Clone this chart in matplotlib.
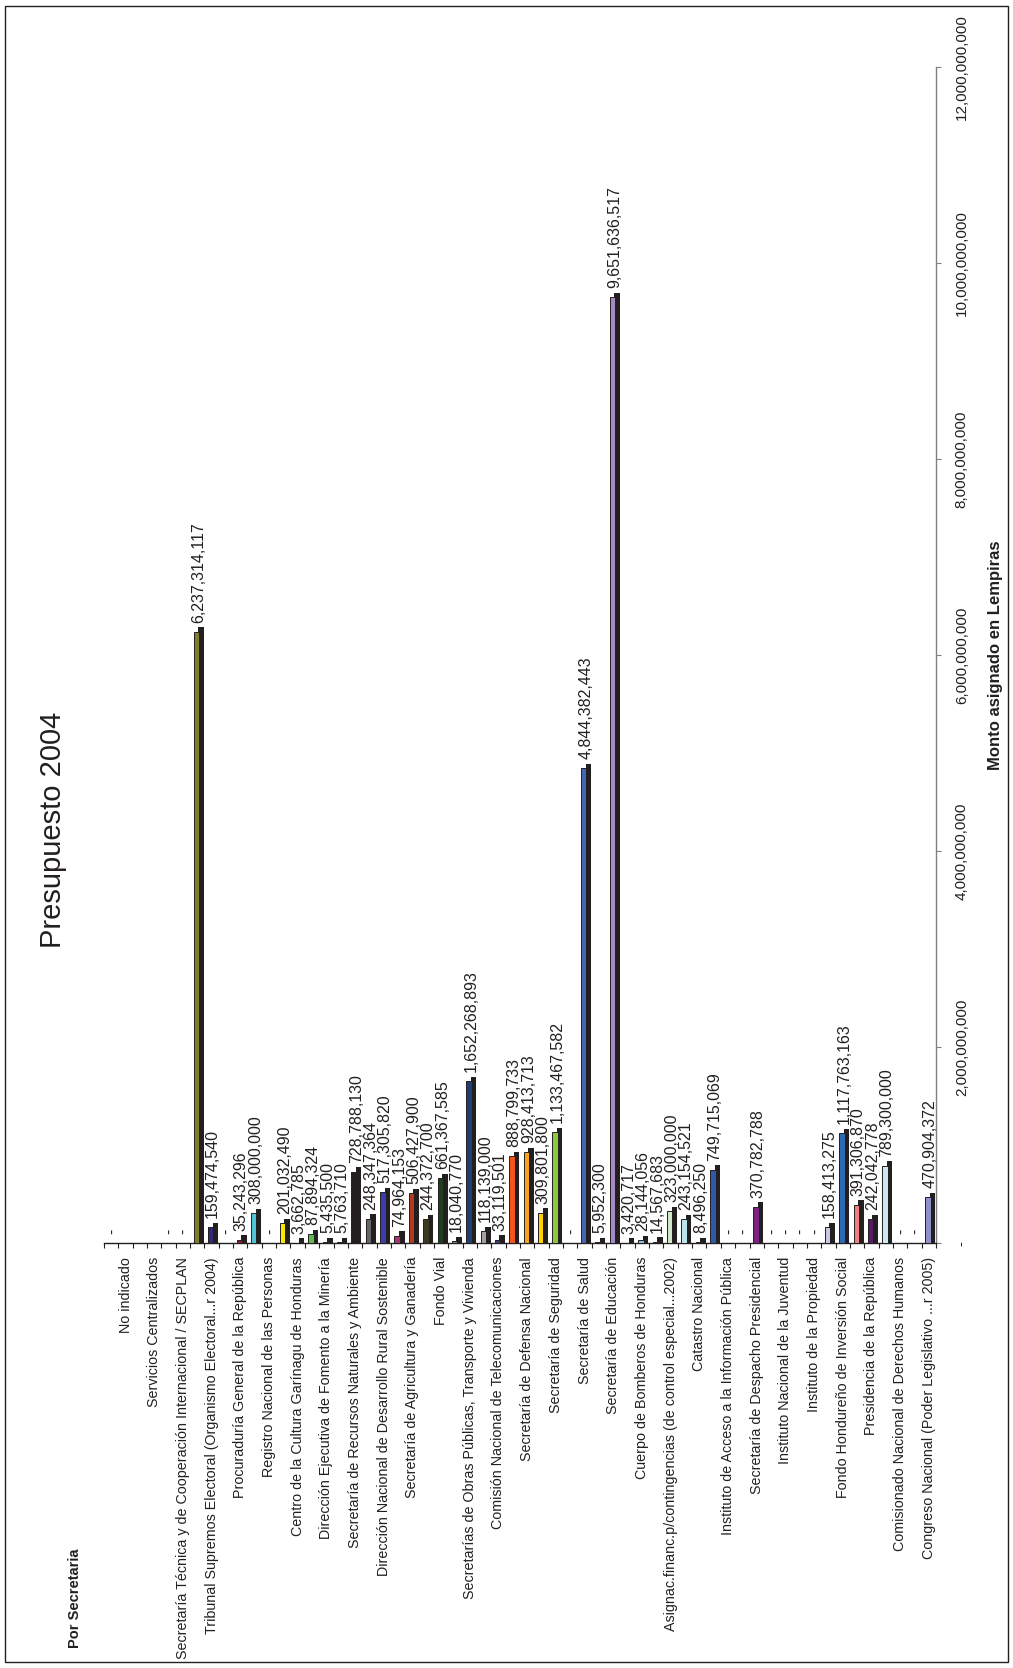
import numpy as np
import matplotlib
matplotlib.use("Agg")
import matplotlib.pyplot as plt
from matplotlib.patches import Rectangle
from matplotlib.ticker import FuncFormatter
from matplotlib.transforms import ScaledTranslation

plt.rcParams["font.family"] = ["Liberation Sans", "DejaVu Sans"]

# categorias (solo una de cada dos lleva nombre visible en el grafico)
categorias = [
    "", "No indicado",
    "", "Servicios Centralizados",
    "", "Secretaría Técnica y de Cooperación Internacional / SECPLAN",
    "", "Tribunal Supremos Electoral (Organismo Electoral...r 2004)",
    "", "Procuraduría General de la República",
    "", "Registro Nacional de las Personas",
    "", "Centro de la Cultura Garínagu de Honduras",
    "", "Dirección Ejecutiva de Fomento a la Minería",
    "", "Secretaría de Recursos Naturales y Ambiente",
    "", "Dirección Nacional de Desarrollo Rural Sostenible",
    "", "Secretaría de Agricultura y Ganadería",
    "", "Fondo Vial",
    "", "Secretarías de Obras Públicas, Transporte y Vivienda",
    "", "Comisión Nacional de Telecomunicaciones",
    "", "Secretaría de Defensa Nacional",
    "", "Secretaría de Seguridad",
    "", "Secretaría de Salud",
    "", "Secretaría de Educación",
    "", "Cuerpo de Bomberos de Honduras",
    "", "Asignac.financ.p/contingencias (de control especial...2002)",
    "", "Catastro Nacional",
    "", "Instituto de Acceso a la Información Pública",
    "", "Secretaría de Despacho Presidencial",
    "", "Instituto Nacional de la Juventud",
    "", "Instituto de la Propiedad",
    "", "Fondo Hondureño de Inversión Social",
    "", "Presidencia de la República",
    "", "Comisionado Nacional de Derechos Humanos",
    "", "Congreso Nacional (Poder Legislativo ...r 2005)",
]

# monto asignado en lempiras (nan = celda vacia)
montos = [
    0, np.nan, np.nan, np.nan, 0, 0,
    6237314117, 159474540, 0, 35243296, 308000000, 0,
    201032490, 3662785, 87894324, 5435500, 5763710, 728788130,
    248347364, 517305820, 74964153, 506427900, 244372700, 661367585,
    18040770, 1652268893, 118139000, 33119501, 888799733, 928413713,
    309801800, 1133467582, 0, 4844382443, 5952300, 9651636517,
    3420717, 28144056, 14567683, 323000000, 243154521, 8496250,
    749715069, 0, 0, 370782788, 0, 0,
    0, 0, 158413275, 1117763163, 391306870, 242042778,
    789300000, 0, 0, 470904372,
]

colores = [
    "#ffffff", "#ffffff", "#ffffff", "#ffffff", "#ffffff", "#ffffff",
    "#7f7f2a", "#2e2a78", "#ffffff", "#8c1c24", "#52c3d6", "#ffffff",
    "#f7ea00", "#c0c0c0", "#5dbb4a", "#996633", "#cc9966", "#231f20",
    "#666666", "#3b3ea8", "#a8336e", "#b23a1e", "#3a3a1e", "#1f3d1f",
    "#808080", "#1e3f72", "#a0a0a0", "#3c3c78", "#f2561d", "#f7a21b",
    "#ffd200", "#8dc63f", "#ffffff", "#4466b0", "#999999", "#a58ac4",
    "#cccccc", "#8fb8e0", "#b0b0b0", "#d1e8c8", "#bde4ee", "#cccccc",
    "#2e58a8", "#ffffff", "#ffffff", "#7b2383", "#ffffff", "#ffffff",
    "#ffffff", "#ffffff", "#c9c6e6", "#2d6ab3", "#f07f7f", "#5b1a66",
    "#cfe9f0", "#ffffff", "#ffffff", "#8f8fd0",
]

valor_max = 12e9
paso = 2e9

W, H = 1013, 1668
fig = plt.figure(figsize=(W / 100, H / 100), dpi=100)
ax_left, ax_right, ax_top, ax_bottom = 104, 936, 67, 1243
ax = fig.add_axes([ax_left / W, 1 - ax_bottom / H,
                   (ax_right - ax_left) / W, (ax_bottom - ax_top) / H])

x = np.arange(len(montos))
vals = np.array(montos, dtype=float)
oscuro = "#231f20"

# efecto 3D: copia oscura desplazada a la derecha y hacia arriba
dx_px, dy_px = 4.6, 4.3
desplazar = ScaledTranslation(dx_px / 100, dy_px / 100, fig.dpi_scale_trans)
pad_dato = valor_max * dy_px / (ax_bottom - ax_top)
sombra = np.where(vals > 0, vals + pad_dato, np.nan)
ax.bar(x - 0.06, sombra, width=0.38, bottom=-pad_dato, color=oscuro,
       linewidth=0, transform=ax.transData + desplazar, zorder=2)
ax.bar(x - 0.06, np.where(vals > 0, vals, np.nan), width=0.38, color=colores,
       edgecolor=oscuro, linewidth=0.7, zorder=3)

for xi, v in zip(x, vals):
    if np.isnan(v):
        continue
    txt = "-" if v == 0 else f"{v:,.0f}"
    ax.annotate(txt, (xi + 0.08, v), xytext=(0, 6.5), textcoords="offset points",
                rotation=90, ha="center", va="bottom", fontsize=11.5,
                color=oscuro, zorder=4, annotation_clip=False)

ax.set_xlim(-0.5, len(x) - 0.5)
ax.set_ylim(0, valor_max)

ax.set_xticks(x, labels=categorias, rotation=90, fontsize=10.3, color=oscuro)
ax.tick_params(axis="x", which="major", length=0, pad=10)
ax.set_xticks(np.arange(len(x) + 1) - 0.5, minor=True)
ax.tick_params(axis="x", which="minor", length=3.5, width=0.8,
               direction="out", color=oscuro)

ax.yaxis.tick_right()
ax.set_yticks(np.arange(0, valor_max + 1, paso))
ax.yaxis.set_major_formatter(
    FuncFormatter(lambda v, p: "-" if v == 0 else f"{v:,.0f}"))
ax.tick_params(axis="y", which="major", length=3.5, width=0.8, direction="out",
               pad=10, labelsize=11, labelrotation=90, color="#808080",
               labelcolor=oscuro)
for lab in ax.get_yticklabels():
    lab.set_verticalalignment("center")

ax.spines[["top", "left"]].set_visible(False)
ax.spines["right"].set_color("#808080")
ax.spines["right"].set_linewidth(1.0)
ax.spines["bottom"].set_color(oscuro)
ax.spines["bottom"].set_linewidth(1.0)

fig.text(53 / W, 1 - 830 / H, "Presupuesto 2004", rotation=90, fontsize=21,
         ha="center", va="center", color=oscuro)
fig.text(995 / W, 1 - 655 / H, "Monto asignado en Lempiras", rotation=90,
         fontsize=12, fontweight="bold", ha="center", va="center", color=oscuro)
fig.text(75 / W, 1 - 1598 / H, "Por Secretaria", rotation=90, fontsize=10.5,
         fontweight="bold", ha="center", va="center", color=oscuro)

fig.add_artist(Rectangle((5 / W, 6 / H), 1003 / W, 1656 / H, transform=fig.transFigure,
                         fill=False, edgecolor=oscuro, linewidth=1.0))

fig.savefig("out.png", dpi=100)
